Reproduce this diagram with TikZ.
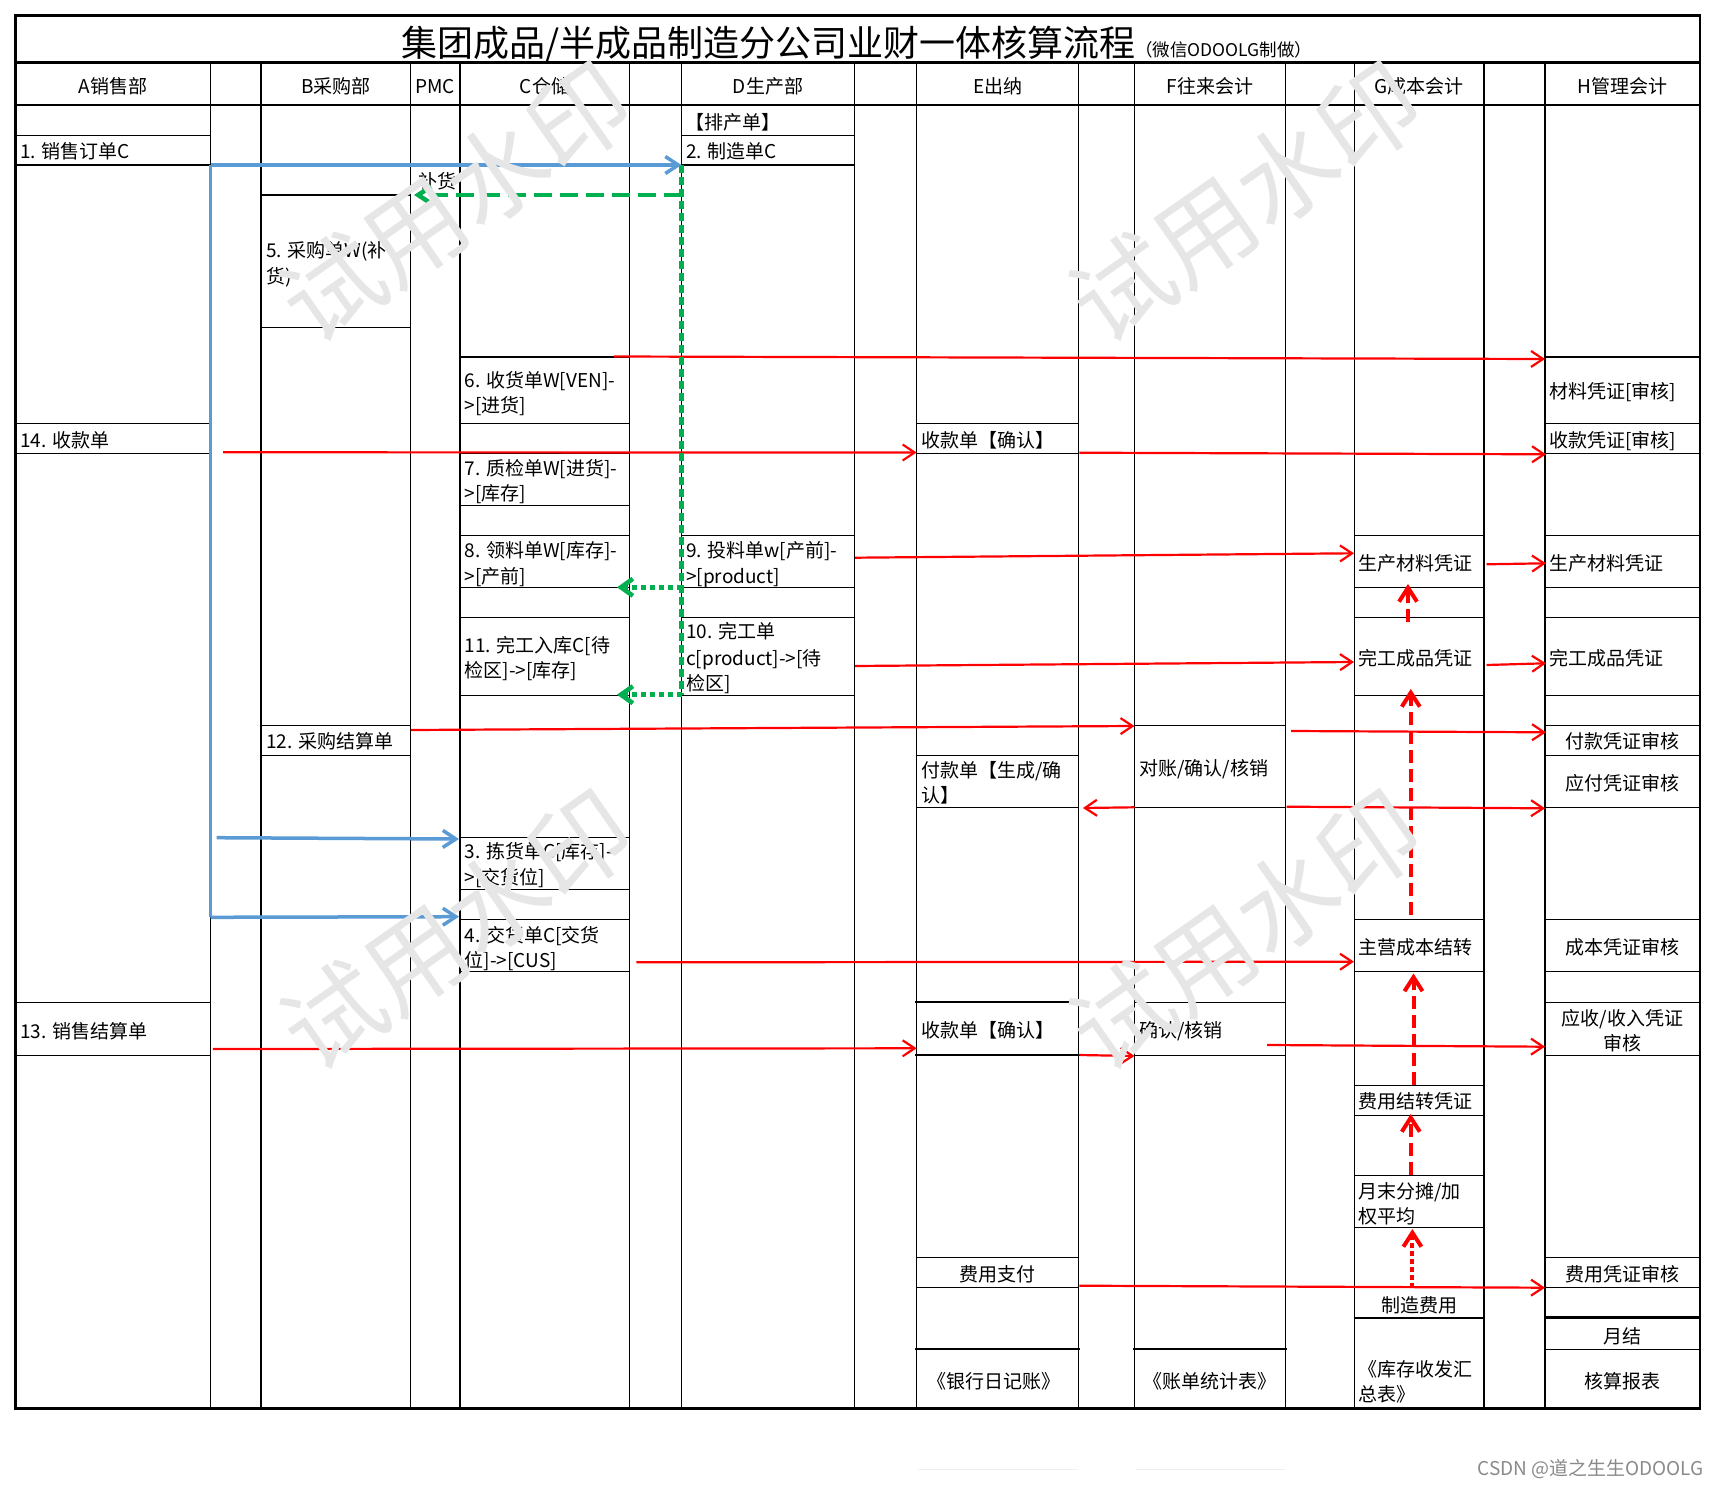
\documentclass[tikz,border=0pt]{standalone}
\usepackage{fontspec}
\setmainfont{Noto Sans CJK SC}
\usetikzlibrary{arrows.meta}
\definecolor{wblue}{HTML}{5B9BD5}
\definecolor{wgreen}{HTML}{00B050}
\definecolor{wmark}{HTML}{E6E6E6}
\definecolor{csdn}{HTML}{8A8A8A}
\tikzset{
  ln/.style={line width=1.4pt, line cap=rect},
  lnb/.style={line width=2.6pt, line cap=rect},
  txt/.style={anchor=base west, inner sep=0pt, font=\fontsize{19}{25}\selectfont},
  ctxt/.style={anchor=base, inner sep=0pt, font=\fontsize{19}{25}\selectfont},
  rarr/.style={draw=red, line width=2.2pt, -{Straight Barb[length=12pt,width=16pt]}},
  barr/.style={draw=wblue, line width=3.5pt, -{Straight Barb[length=13pt,width=17pt]}},
  bline/.style={draw=wblue, line width=3.5pt},
  gdash/.style={draw=wgreen, line width=4.5pt, dash pattern=on 18pt off 8pt, -{Straight Barb[length=13pt,width=17pt]}},
  gvert/.style={draw=wgreen, line width=5pt, dash pattern=on 8pt off 4pt},
  gdot/.style={draw=wgreen, line width=4.5pt, dash pattern=on 5pt off 4pt, -{Straight Barb[length=12pt,width=17pt]}},
  rdash/.style={draw=red, line width=4pt, dash pattern=on 13pt off 6pt, -{Straight Barb[length=14pt,width=18pt]}},
  rdotted/.style={draw=red, line width=4pt, dash pattern=on 5pt off 3pt, -{Straight Barb[length=14pt,width=18pt]}},
  wm/.style={text=wmark, font=\fontsize{100}{100}\selectfont, rotate=35, inner sep=0pt},
}
\begin{document}
\begin{tikzpicture}[x=1pt,y=-1pt]
\useasboundingbox (0,0) rectangle (1717,1485);
\fill[white] (0,0) rectangle (1717,1485);

% ---------- grid ----------
\foreach \x in {210.5,261,410.7,460,629.7,681.5,854.3,916.6,1078.6,1134.5,1285.7,1354.2,1484,1545}
  \draw[ln] (\x,62.7) -- (\x,1408.7);
% A
\foreach \y in {135.3,165,423.3,453.3,1002.3,1055.3} \draw[ln] (15.5,\y) -- (210.5,\y);
% B
\foreach \y in {195,327.3,725.3,755.3} \draw[ln] (261,\y) -- (410.7,\y);
% C
\foreach \y in {357,423.3,453.3,505.3,535.3,587.3,617.3,695.3,837.3,889.3,919.3,971.3} \draw[ln] (460,\y) -- (629.7,\y);
% D
\foreach \y in {135.3,165,535.3,587.3,617.3,695.3} \draw[ln] (681.5,\y) -- (854.3,\y);
% E
\foreach \y in {423.3,453.3,755.3,807.3,1257.3,1287.3} \draw[ln] (916.6,\y) -- (1078.6,\y);
\foreach \y in {1002,1055,1349} \draw[lnb] (916.6,\y) -- (1078.6,\y);
% F
\foreach \y in {725.3,807.3,1002.3,1055.3} \draw[ln] (1134.5,\y) -- (1285.7,\y);
\draw[lnb] (1134.5,1349) -- (1285.7,1349);
% G
\foreach \y in {535.3,587.3,617.3,695.3,919.3,971.3,1085.7,1115.3,1175.3,1227.3,1287.3,1318} \draw[ln] (1354.2,\y) -- (1484,\y);
% H
\foreach \y in {357,423.3,453.3,535.3,587.3,617.3,695.3,725.3,755.3,807.3,919.3,971.3,1002.3,1055.3,1257.3,1287.3,1349.3} \draw[ln] (1545,\y) -- (1700,\y);
\draw[lnb] (1545,1317.3) -- (1700,1317.3);
% frame
\draw[lnb] (15.5,62.7) -- (1700,62.7);
\draw[lnb] (15.5,105) -- (1700,105);
\draw[line width=2.8pt] (15.5,15.7) rectangle (1700,1408.7);
% faint lines below
\draw[gray!12, line width=1pt] (918,1469) -- (1078,1469);
\draw[gray!12, line width=1pt] (1135.6,1469) -- (1285,1469);

% ---------- title ----------
\node[anchor=base west, inner sep=0pt] (title) at (401,57)
  {{\fontsize{36}{36}\selectfont 集团成品/半成品制造分公司业财一体核算流程}{\fontsize{17.5}{17.5}\selectfont （微信ODOOLG制做）}};

% ---------- headers ----------
\node[ctxt] (hA) at (113,93.7) {A销售部};
\node[ctxt] (hB) at (336,93.7) {B采购部};
\node[ctxt] (hP) at (435.3,93.7) {PMC};
\node[ctxt] (hC) at (545,93.7) {C仓储};
\node[ctxt] (hD) at (768,93.7) {D生产部};
\node[ctxt] (hE) at (997.6,93.7) {E出纳};
\node[ctxt] (hF) at (1210,93.7) {F往来会计};
\node[ctxt] (hG) at (1419,93.7) {G成本会计};
\node[ctxt] (hH) at (1622.5,93.7) {H管理会计};

% ---------- A ----------
\node[txt] (a1) at (20,158.7) {1. 销售订单C};
\node[txt] (a14) at (20,447) {14. 收款单};
\node[txt] (a13) at (20,1038) {13. 销售结算单};
% ---------- B / PMC ----------
\node[txt] (b5a) at (266,257.8) {5. 采购单W(补};
\node[txt] (b5b) at (266,283.7) {货)};
\node[txt] (b12) at (266,748.7) {12. 采购结算单};
\node[txt] (pmc) at (418,189) {补货};
% ---------- C ----------
\node[txt] (c6a) at (464.5,387) {6. 收货单W[VEN]-};
\node[txt] (c6b) at (464.5,412) {>[进货]};
\node[txt] (c7a) at (464.5,475.3) {7. 质检单W[进货]-};
\node[txt] (c7b) at (464.5,500.3) {>[库存]};
\node[txt] (c8a) at (464.5,557) {8. 领料单W[库存]-};
\node[txt] (c8b) at (464.5,583.7) {>[产前]};
\node[txt] (c11a) at (464.5,652) {11. 完工入库C[待};
\node[txt] (c11b) at (464.5,677) {检区]->[库存]};
\node[txt] (c3a) at (464.5,858.7) {3. 拣货单C[库存]-};
\node[txt] (c3b) at (464.5,884.3) {>[交货位]};
\node[txt] (c4a) at (464.5,942) {4. 交货单C[交货};
\node[txt] (c4b) at (464.5,967) {位]->[CUS]};
% ---------- D ----------
\node[txt] (d0) at (685,129.5) {【排产单】};
\node[txt] (d2) at (686,158.7) {2. 制造单C};
\node[txt] (d9a) at (686,557) {9. 投料单w[产前]-};
\node[txt] (d9b) at (686,583.7) {>[product]};
\node[txt] (d10a) at (686,638.7) {10. 完工单};
\node[txt] (d10b) at (686,665.3) {c[product]->[待};
\node[txt] (d10c) at (686,690.3) {检区]};
% ---------- E ----------
\node[txt] (e1) at (921,447) {收款单【确认】};
\node[txt] (e2a) at (921,777) {付款单【生成/确};
\node[txt] (e2b) at (921,802) {认】};
\node[txt] (e3) at (921,1037) {收款单【确认】};
\node[ctxt] (e4) at (997.6,1281) {费用支付};
\node[ctxt] (e5) at (994,1388.3) {《银行日记账》};
% ---------- F ----------
\node[txt] (f1) at (1139,775.3) {对账/确认/核销};
\node[txt] (f2) at (1139,1037) {确认/核销};
\node[ctxt] (f3) at (1210,1388.3) {《账单统计表》};
% ---------- G ----------
\node[txt] (g1) at (1358,570.3) {生产材料凭证};
\node[txt] (g2) at (1358,665.3) {完工成品凭证};
\node[txt] (g3) at (1358,954) {主营成本结转};
\node[txt] (g4) at (1358,1108.7) {费用结转凭证};
\node[txt] (g5a) at (1358,1198) {月末分摊/加};
\node[txt] (g5b) at (1358,1223) {权平均};
\node[ctxt] (g6) at (1419,1312) {制造费用};
\node[txt] (g7a) at (1358,1376.3) {《库存收发汇};
\node[txt] (g7b) at (1358,1401.3) {总表》};
% ---------- H ----------
\node[txt] (h1) at (1549,398.7) {材料凭证[审核]};
\node[txt] (h2) at (1549,447) {收款凭证[审核]};
\node[txt] (h3) at (1549,570.3) {生产材料凭证};
\node[txt] (h4) at (1549,665.3) {完工成品凭证};
\node[ctxt] (h5) at (1622.5,748.7) {付款凭证审核};
\node[ctxt] (h6) at (1622.5,790.3) {应付凭证审核};
\node[ctxt] (h7) at (1622.5,954) {成本凭证审核};
\node[ctxt] (h8a) at (1622.5,1025.3) {应收/收入凭证};
\node[ctxt] (h8b) at (1622.5,1050.3) {审核};
\node[ctxt] (h9) at (1622.5,1281) {费用凭证审核};
\node[ctxt] (h10) at (1622.5,1343) {月结};
\node[ctxt] (h11) at (1622.5,1388.3) {核算报表};

% ---------- connector end points ----------
\coordinate (bTop) at (210.5,165);
\coordinate (bBot) at (210.5,917.3);
\coordinate (bMid) at (216.7,837.7);
\coordinate (D2w) at (681.5,165);
\coordinate (C3w) at (459,839);
\coordinate (C4w) at (459,916.7);
\coordinate (gTop) at (681.5,165);
\coordinate (gBot) at (681.5,694.7);
\coordinate (gR1) at (681.5,195);
\coordinate (gPMC) at (414,195);
\coordinate (gR2) at (681.5,587.3);
\coordinate (gC8) at (617,587.3);
\coordinate (gC11) at (617,694.7);

\coordinate (r1s) at (614,356.5);     \coordinate (r1e) at (1545,359);
\coordinate (r2s) at (223,452.3);     \coordinate (r2e) at (916.6,452.5);
\coordinate (r3s) at (1079.3,452.7);  \coordinate (r3e) at (1546,454.3);
\coordinate (r4s) at (855,557.7);     \coordinate (r4e) at (1354,553.3);
\coordinate (r5s) at (1486.5,564.3);  \coordinate (r5e) at (1546,563.3);
\coordinate (r6s) at (855,666);       \coordinate (r6e) at (1354,662);
\coordinate (r7s) at (1486.5,665);    \coordinate (r7e) at (1546,663.3);
\coordinate (r8s) at (410.9,730);     \coordinate (r8e) at (1134.5,726);
\coordinate (r9s) at (1291,731);      \coordinate (r9e) at (1546,732.3);
\coordinate (r10s) at (1134.5,807.3); \coordinate (r10e) at (1083,808);
\coordinate (r11s) at (1286.5,806.7); \coordinate (r11e) at (1545,808.3);
\coordinate (r12s) at (636.3,962.3);  \coordinate (r12e) at (1354,961.7);
\coordinate (r13s) at (212.8,1049);   \coordinate (r13e) at (916.6,1048.3);
\coordinate (r14s) at (1079.3,1055);  \coordinate (r14e) at (1134.5,1056);
\coordinate (r15s) at (1267,1045);    \coordinate (r15e) at (1545,1046.7);
\coordinate (r16s) at (1079.3,1285.7);\coordinate (r16e) at (1545,1287.7);

\coordinate (v1s) at (1408,622.3);    \coordinate (v1e) at (1408,584);
\coordinate (v2s) at (1410.8,915);    \coordinate (v2e) at (1410.8,689);
\coordinate (v3s) at (1413.5,1085);   \coordinate (v3e) at (1413.5,973.5);
\coordinate (v4s) at (1410.8,1175);   \coordinate (v4e) at (1410.8,1114);
\coordinate (v5s) at (1412.4,1288.3); \coordinate (v5e) at (1412.4,1229);

% ---------- connectors ----------
\foreach \i in {1,...,16} \draw[rarr] (r\i s) -- (r\i e);
\draw[rdash] (v1s) -- (v1e);
\draw[rdash] (v2s) -- (v2e);
\draw[rdash] (v3s) -- (v3e);
\draw[rdash] (v4s) -- (v4e);
\draw[rdotted] (v5s) -- (v5e);

\draw[gvert] (gTop) -- (gBot);
\draw[gdash] (gR1) -- (gPMC);
\draw[gdot] (gR2) -- (gC8);
\draw[gdot] (gBot) -- (gC11);

\draw[bline] (bTop) -- (bBot);
\draw[barr] (bTop) -- (D2w);
\draw[barr] (bMid) -- (C3w);
\draw[barr] (bBot) -- (C4w);

% ---------- watermarks ----------
\node[wm] (wm1) at (456,202) {试用水印};
\node[wm] (wm2) at (1246,202) {试用水印};
\node[wm] (wm3) at (457,930) {试用水印};
\node[wm] (wm4) at (1246,930) {试用水印};

\node[anchor=base east, inner sep=0pt, text=csdn, font=\fontsize{19}{19}\selectfont] (csdn) at (1704,1475) {CSDN @道之生生ODOOLG};
\end{tikzpicture}
\end{document}
